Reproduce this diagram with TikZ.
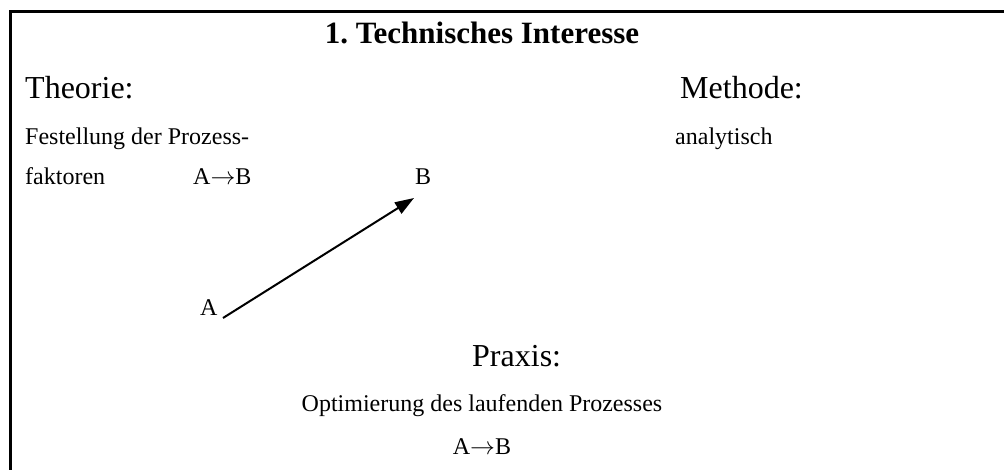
\documentclass[tikz,border=0pt]{standalone}
\usepackage{fontspec}
\setmainfont{Liberation Serif}
\usetikzlibrary{arrows.meta}
\frenchspacing

\tikzset{
  frame/.style={line width=3pt},
  heading/.style={font=\fontsize{31}{36}\selectfont\bfseries, inner sep=0pt},
  big/.style={font=\fontsize{32}{38}\selectfont, inner sep=0pt},
  small/.style={font=\fontsize{24}{28}\selectfont, inner sep=0pt},
  flow/.style={line width=2pt, -{Triangle[length=19pt,width=13pt]}}
}

\begin{document}
\begin{tikzpicture}[x=1pt,y=-1pt]
  \useasboundingbox (0,0) rectangle (1004,470);

  % open frame around the scheme
  \draw[frame] (1006,12) -- (10.5,12) -- (10.5,472);

  \node[heading, anchor=base] (title) at (482,44) {1. Technisches Interesse};

  \node[big, anchor=base west] (theorie) at (25,99) {Theorie:};
  \node[big, anchor=base west] (methode) at (680,99) {Methode:};

  \node[small, anchor=base west] (fest) at (25,145) {Festellung der Prozess-};
  \node[small, anchor=base west] (fakt) at (25,185) {faktoren};
  \node[small, anchor=base west] (ab1) at (193,185) {A$\rightarrow$B};
  \node[small, anchor=base west] (analyt) at (675,145) {analytisch};

  \node[small, anchor=base west] (lblB) at (415,185) {B};
  \node[small, anchor=base west] (lblA) at (200,316) {A};

  \coordinate (tail) at (223,318);
  \coordinate (tip) at (414,198);
  \draw[flow] (tail) -- (tip);

  \node[big, anchor=base west] (praxis) at (472,366) {Praxis:};
  \node[small, anchor=base] (optim) at (482,411) {Optimierung des laufenden Prozesses};
  \node[small, anchor=base] (ab2) at (482,454) {A$\rightarrow$B};
\end{tikzpicture}
\end{document}
